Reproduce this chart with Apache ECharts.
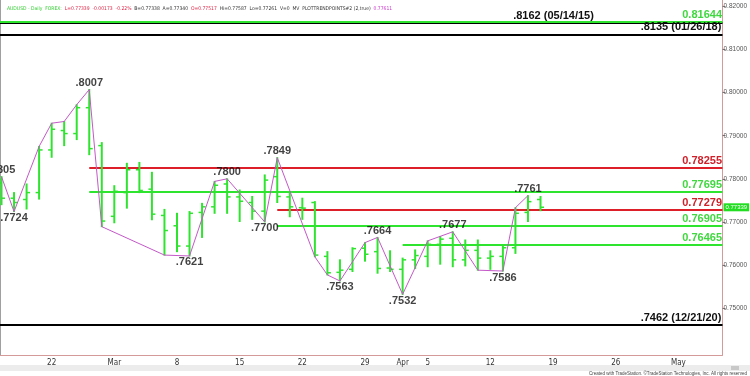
<!DOCTYPE html>
<html>
<head>
<meta charset="utf-8">
<script src="https://cdn.jsdelivr.net/npm/echarts@6/dist/echarts.min.js"></script>
<style>
  html, body { margin: 0; padding: 0; background: #fff; }
  #chart { width: 750px; height: 376px; }
</style>
</head>
<body>
<div id="chart"></div>
<script>
// trading day index, 0 = Mon 15 Feb 2021
var dayIdx = [1,2,3,4,5,6,7,8,9,10,11,12,13,14,15,16,17,18,19,20,21,22,23,24,25,26,27,28,29,30,31,32,33,34,35,36,37,38,39,40,41,42,43,44];
var opens  = [0.7790,0.7755,0.7752,0.7768,0.7867,0.7912,0.7905,0.7965,0.7877,0.7713,0.7768,0.7821,0.7776,0.7715,0.7691,0.7644,0.7722,0.7735,0.7788,0.7758,0.7745,0.7725,0.7805,0.7758,0.7733,0.7745,0.7620,0.7583,0.7590,0.7639,0.7631,0.7593,0.7590,0.7612,0.7620,0.7648,0.7662,0.7612,0.7634,0.7616,0.7620,0.7640,0.7722,0.7752];
var highs  = [0.7805,0.7768,0.7788,0.7875,0.7929,0.7933,0.7972,0.8007,0.7884,0.7784,0.7836,0.7838,0.7815,0.7729,0.7720,0.7724,0.7743,0.7794,0.7800,0.7774,0.7759,0.7809,0.7849,0.7766,0.7755,0.7747,0.7631,0.7612,0.7640,0.7652,0.7664,0.7633,0.7616,0.7635,0.7656,0.7666,0.7677,0.7658,0.7658,0.7633,0.7646,0.7733,0.7761,0.7759];
var lows   = [0.7740,0.7724,0.7730,0.7753,0.7850,0.7877,0.7891,0.7856,0.7689,0.7698,0.7732,0.7768,0.7705,0.7623,0.7631,0.7621,0.7664,0.7720,0.7720,0.7701,0.7706,0.7700,0.7745,0.7712,0.7706,0.7619,0.7577,0.7563,0.7585,0.7609,0.7581,0.7585,0.7532,0.7592,0.7596,0.7602,0.7596,0.7598,0.7588,0.7590,0.7586,0.7627,0.7701,0.7726];
var closes = [0.7755,0.7745,0.7768,0.7867,0.7915,0.7905,0.7965,0.7870,0.7702,0.7771,0.7821,0.7773,0.7718,0.7680,0.7644,0.7720,0.7735,0.7785,0.7758,0.7748,0.7725,0.7797,0.7759,0.7735,0.7732,0.7623,0.7582,0.7588,0.7638,0.7625,0.7592,0.7590,0.7612,0.7622,0.7648,0.7660,0.7612,0.7634,0.7616,0.7620,0.7640,0.7720,0.7747,0.7734];

// trend points path
var swingIdx = [1,2,4,5,6,7,8,9,14,16,18,19,22,23,26,27,28,30,31,33,35,37,39,41,42,43];
var swingVal = [0.7805,0.7724,0.7875,0.7929,0.7933,0.7972,0.8007,0.7689,0.7623,0.7621,0.7794,0.7800,0.7700,0.7849,0.7619,0.7577,0.7563,0.7652,0.7664,0.7532,0.7656,0.7677,0.7588,0.7586,0.7733,0.7761];

// levels
var redLevels = [0.78255, 0.77279];
var redFrom = [8, 23];
var greenLevels = [0.81644, 0.77695, 0.76905, 0.76465];
var greenFrom = [null, 8, 23, 33];
var histLevels = [0.8162, 0.8135, 0.7462];
var histText = ['.8162 (05/14/15)', '.8135 (01/26/18)', '.7462 (12/21/20)'];
var histLabelAt = [48.1, null, null];
var lastPrice = 0.77339;

// axes
var xTickIdx = [5,10,15,20,25,30,33,35,40,45,50,55];
var xTickText = ['22','Mar','8','15','22','29','Apr','5','12','19','26','May'];
var yTicks = [0.75,0.76,0.77,0.78,0.79,0.80,0.81,0.82];
var xMin = 0.88, xMax = 58.52;
var yMin = 0.73912, yMax = 0.82149;

var GREEN = '#2fe42f', RED = '#dd1f2a', LBL_GREEN = '#3fd83f', LBL_RED = '#d0202a';

var ohlc = dayIdx.map(function (d, k) { return [d, opens[k], highs[k], lows[k], closes[k]]; });
var swing = swingIdx.map(function (d, k) { return [d, swingVal[k]]; });

// pivots = local extremes of the trend path
var pivots = [];
swing.forEach(function (p, k) {
  var prev = k > 0 ? swing[k - 1][1] : null;
  var next = k < swing.length - 1 ? swing[k + 1][1] : null;
  var hi = (prev === null || p[1] > prev) && (next === null || p[1] > next);
  var lo = (prev === null || p[1] < prev) && (next === null || p[1] < next);
  if (hi || lo) {
    pivots.push({ value: p, label: { position: hi ? 'top' : 'bottom' } });
  }
});

function renderOhlc(params, api) {
  var i = api.value(0);
  var o = api.coord([i, api.value(1)]);
  var h = api.coord([i, api.value(2)]);
  var l = api.coord([i, api.value(3)]);
  var c = api.coord([i, api.value(4)]);
  var st = { stroke: GREEN, lineWidth: 2 };
  var tk = { stroke: GREEN, lineWidth: 1.5 };
  return {
    type: 'group',
    children: [
      { type: 'line', shape: { x1: h[0], y1: h[1] - 0.5, x2: l[0], y2: l[1] + 0.5 }, style: st },
      { type: 'line', shape: { x1: o[0] - 3.5, y1: o[1], x2: o[0], y2: o[1] }, style: tk },
      { type: 'line', shape: { x1: c[0], y1: c[1], x2: c[0] + 3.5, y2: c[1] }, style: tk }
    ]
  };
}

function levelLine(v, from, color) {
  return [
    { coord: [from === null ? xMin : from, v], lineStyle: { color: color, width: 2, type: 'solid' } },
    { coord: [xMax, v] }
  ];
}

var lines = [];
histLevels.forEach(function (v) { lines.push(levelLine(v, null, '#000')); });
greenLevels.forEach(function (v, k) { lines.push(levelLine(v, greenFrom[k], GREEN)); });
redLevels.forEach(function (v, k) { lines.push(levelLine(v, redFrom[k], RED)); });

function tag(x, v, text, color) {
  return {
    coord: [x, v],
    symbol: 'circle', symbolSize: 0,
    label: {
      show: true, position: 'left', distance: 0, offset: [2, -7],
      formatter: text, color: color,
      fontFamily: 'Arial, "Liberation Sans", sans-serif',
      fontSize: 11, fontWeight: 'bold'
    }
  };
}

var tags = [];
histLevels.forEach(function (v, k) {
  tags.push(tag(histLabelAt[k] === null ? xMax - 0.25 : histLabelAt[k], v, histText[k], '#111'));
});
greenLevels.forEach(function (v) { tags.push(tag(xMax - 0.2, v, v.toFixed(5), LBL_GREEN)); });
redLevels.forEach(function (v) { tags.push(tag(xMax - 0.2, v, v.toFixed(5), LBL_RED)); });
tags.push({
  coord: [xMax, lastPrice], symbol: 'circle', symbolSize: 0,
  label: {
    show: true, position: 'right', distance: 1,
    formatter: lastPrice.toFixed(5), color: '#fff', backgroundColor: '#22dd22',
    fontSize: 6, fontFamily: 'Arial, sans-serif', padding: [1, 2, 1, 2]
  }
});

var chart = echarts.init(document.getElementById('chart'));
chart.setOption({
  animation: false,
  backgroundColor: '#fff',
  title: {
    left: 2, top: 1,
    text: '{g|AUDUSD - Daily  FOREX:}  {r|L=0.77339  -0.00173  -0.22%}  {k|B=0.77338  A=0.77340}  {r|O=0.77517}  {k|Hi=0.77587  Lo=0.77261  V=0  MV  PLOTTRENDPOINTS#2 (2,true)}  {m|0.77611}',
    textStyle: {
      fontSize: 5, fontWeight: 'normal', fontFamily: '"Liberation Sans Narrow", "DejaVu Sans Condensed", Arial, sans-serif',
      rich: {
        g: { color: '#33cc33', fontSize: 5 },
        r: { color: '#dd2244', fontSize: 5 },
        k: { color: '#333', fontSize: 5 },
        m: { color: '#cc33cc', fontSize: 5 }
      }
    }
  },
  grid: { left: 0, right: 27, top: 0, bottom: 21, containLabel: false },
  xAxis: {
    type: 'value', min: xMin, max: xMax,
    splitLine: { show: false },
    axisLine: { show: true, lineStyle: { color: '#d49a9a', width: 1 } },
    axisTick: { show: false },
    axisLabel: {
      customValues: xTickIdx,
      formatter: function (v) { var k = xTickIdx.indexOf(v); return k < 0 ? '' : xTickText[k]; },
      color: '#333', fontSize: 8, margin: 4,
      fontFamily: '"Liberation Sans Narrow", "DejaVu Sans Condensed", Arial, sans-serif'
    }
  },
  yAxis: [{
    type: 'value', position: 'right', min: yMin, max: yMax,
    splitLine: { show: false },
    axisLine: { show: true, lineStyle: { color: '#d49a9a', width: 1 } },
    axisTick: { show: true, customValues: yTicks, length: 3, lineStyle: { color: '#777' } },
    axisLabel: {
      customValues: yTicks,
      formatter: function (v) { return v.toFixed(5); },
      color: '#555', fontSize: 6.5, margin: 1,
      fontFamily: 'Arial, "Liberation Sans", sans-serif'
    }
  }, {
    type: 'value', position: 'left', min: yMin, max: yMax,
    splitLine: { show: false },
    axisLine: { show: true, lineStyle: { color: '#a0a0a0', width: 1 } },
    axisTick: { show: false }, axisLabel: { show: false }
  }],
  series: [{
    type: 'custom', name: 'ohlc',
    renderItem: renderOhlc,
    data: ohlc,
    encode: { x: 0, y: [1, 2, 3, 4] },
    z: 3,
    markLine: { silent: true, symbol: ['none', 'none'], label: { show: false }, data: lines, z: 2 },
    markPoint: { silent: true, data: tags }
  }, {
    type: 'line', name: 'trend',
    data: swing, symbol: 'none', z: 4,
    lineStyle: { color: '#c458c8', width: 1 }
  }, {
    type: 'scatter', name: 'pivots',
    data: pivots, symbolSize: 0, z: 5,
    label: {
      show: true, distance: 1, color: '#111',
      fontSize: 11, fontWeight: 'bold', fontFamily: 'Arial, "Liberation Sans", sans-serif',
      formatter: function (p) { return '.' + Math.round(p.value[1] * 10000); }
    }
  }],
  graphic: [
    { type: 'rect', left: 0, top: 365, shape: { width: 750, height: 6 }, style: { fill: '#ececec' } },
    { type: 'rect', left: 731, top: 366, shape: { width: 8, height: 4 }, style: { fill: '#c8c8c8' } },
    { type: 'text', right: 3, top: 371, style: { text: 'Created with TradeStation. \u00a9TradeStation Technologies, Inc. All rights reserved', fontSize: 4.5, fill: '#444', fontFamily: 'Arial, sans-serif' } }
  ]
});
</script>
</body>
</html>
